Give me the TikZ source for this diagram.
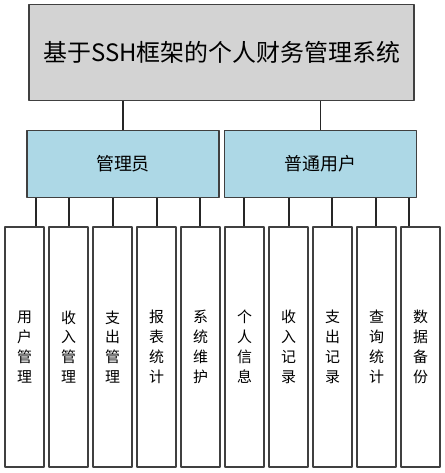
\documentclass[tikz,border=0pt]{standalone}
\usepackage{fontspec}
\setmainfont{Noto Sans CJK SC}
\definecolor{titlegray}{HTML}{D3D3D3}
\definecolor{roleblue}{HTML}{ADD8E6}
\begin{document}
\begin{tikzpicture}[x=1bp, y=-1bp, line join=round,
	box/.style={draw=black!75, line width=1.5bp, inner sep=0pt},
	link/.style={draw=black!85, line width=1.5bp},
	role/.style={box, fill=roleblue, minimum width=192bp, minimum height=67bp, font=\fontsize{18}{22}\selectfont},
	leaf/.style={box, fill=white, minimum width=39bp, minimum height=240bp, align=center, font=\fontsize{15}{20}\selectfont}]
	\useasboundingbox (0,0) rectangle (445,473);
	% top and second level
	\node[box, fill=titlegray, minimum width=385bp, minimum height=96bp, font=\fontsize{24}{28}\selectfont] (sys) at (221.7,52.7) {基于SSH框架的个人财务管理系统};
	\node[role] (admin) at (123,164) {管理员};
	\node[role] (user) at (320.3,164) {普通用户};
	\draw[link] (admin.north) -- (admin.north |- sys.south);
	\draw[link] (user.north) -- (user.north |- sys.south);
	% function modules
	\foreach \i/\t/\c/\p in {0/{用\\户\\管\\理}/36/admin, 1/{收\\入\\管\\理}/69/admin, 2/{支\\出\\管\\理}/113/admin,
		3/{报\\表\\统\\计}/157/admin, 4/{系\\统\\维\\护}/200/admin, 5/{个\\人\\信\\息}/244/user,
		6/{收\\入\\记\\录}/289/user, 7/{支\\出\\记\\录}/332/user, 8/{查\\询\\统\\计}/376/user, 9/{数\\据\\备\\份}/409/user}
	{
		\node[leaf] (m\i) at ({24.5+44*\i},347) {\t};
		\draw[link] (\c,0 |- m\i.north) -- (\c,0 |- \p.south);
	}
\end{tikzpicture}
\end{document}
